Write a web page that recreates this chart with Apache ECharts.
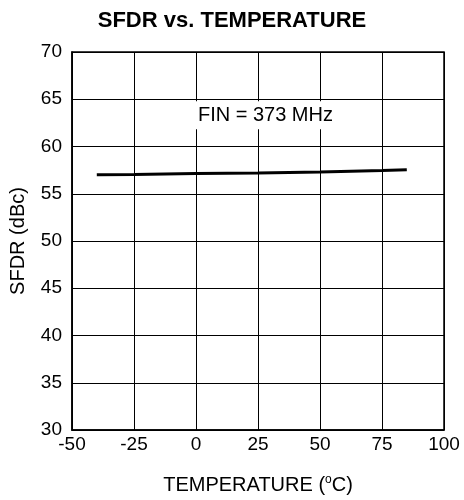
<!DOCTYPE html>
<html>
<head>
<meta charset="utf-8">
<script src="https://cdn.jsdelivr.net/npm/echarts@6/dist/echarts.min.js"></script>
<style>
html,body{margin:0;padding:0;background:#fff;}
#chart{width:464px;height:500px;}
</style>
</head>
<body>
<div id="chart"></div>
<script>
// Data
const temperatures = [-40, -25, 0, 25, 50, 75, 85];
const sfdrValues = [57.0, 57.05, 57.15, 57.2, 57.3, 57.45, 57.55];
const xTicks = [-50, -25, 0, 25, 50, 75, 100];
const yTicks = [30, 35, 40, 45, 50, 55, 60, 65, 70];
const annotationText = 'FIN = 373 MHz';
const annotationAt = [28, 63.3];

const FONT = '"Liberation Sans", Arial, Helvetica, sans-serif';
const chart = echarts.init(document.getElementById('chart'), null, {renderer: 'canvas'});

chart.setOption({
  animation: false,
  backgroundColor: '#fff',
  title: {
    text: 'SFDR vs. TEMPERATURE',
    left: 'center',
    top: 5,
    textStyle: {fontFamily: FONT, fontSize: 22, fontWeight: 'bold', color: '#000'}
  },
  grid: {
    left: 72, right: 20, top: 52, bottom: 68,
    show: true, borderColor: '#000', borderWidth: 1.5, backgroundColor: 'transparent'
  },
  xAxis: {
    type: 'value',
    min: xTicks[0], max: xTicks[xTicks.length - 1], interval: 25,
    name: '{a|TEMPERATURE (}{s|o}{a|C)}',
    nameLocation: 'middle',
    nameGap: 44,
    nameTextStyle: {
      rich: {
        a: {fontFamily: FONT, fontSize: 20, color: '#000', lineHeight: 22},
        s: {fontFamily: FONT, fontSize: 12, color: '#000', verticalAlign: 'top', lineHeight: 22}
      }
    },
    axisLine: {show: true, onZero: false, lineStyle: {color: '#000', width: 1.5}},
    axisTick: {show: false},
    axisLabel: {fontFamily: FONT, fontSize: 19, color: '#000', margin: 5},
    splitLine: {show: true, lineStyle: {color: '#000', width: 1}}
  },
  yAxis: {
    type: 'value',
    min: yTicks[0], max: yTicks[yTicks.length - 1], interval: 5,
    name: 'SFDR (dBc)',
    nameLocation: 'middle',
    nameGap: 44,
    nameTextStyle: {fontFamily: FONT, fontSize: 20, color: '#000', padding: [0, 0, 0, 0]},
    axisLine: {show: true, onZero: false, lineStyle: {color: '#000', width: 1.5}},
    axisTick: {show: false},
    axisLabel: {fontFamily: FONT, fontSize: 19, color: '#000', margin: 10},
    splitLine: {show: true, lineStyle: {color: '#000', width: 1}}
  },
  series: [{
    type: 'line',
    data: temperatures.map((t, i) => [t, sfdrValues[i]]),
    showSymbol: false,
    symbol: 'none',
    lineStyle: {color: '#000', width: 3},
    markPoint: {
      symbol: 'rect',
      symbolSize: 1,
      itemStyle: {color: 'rgba(0,0,0,0)'},
      label: {
        show: true,
        position: 'inside',
        formatter: annotationText,
        fontFamily: FONT,
        fontSize: 20,
        color: '#000',
        backgroundColor: '#fff',
        padding: [4, 2, 4, 2]
      },
      data: [{coord: annotationAt}]
    }
  }]
});
</script>
</body>
</html>
